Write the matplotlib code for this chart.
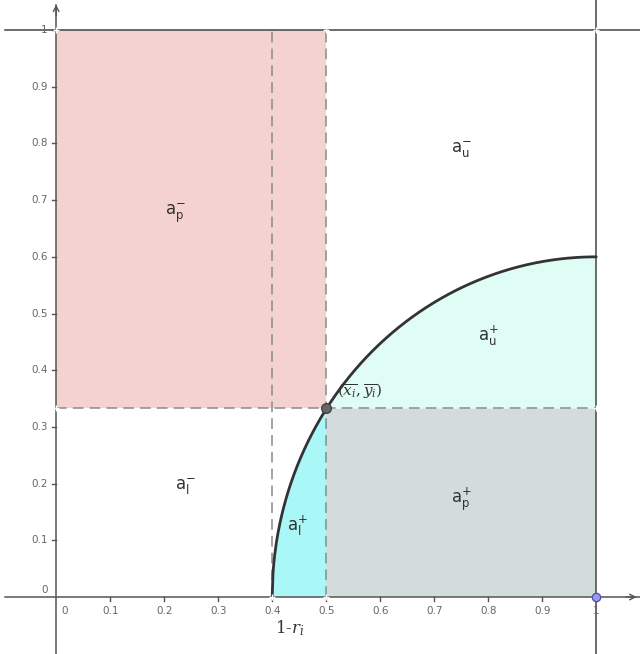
import numpy as np
import matplotlib.pyplot as plt

plt.rcParams['mathtext.fontset'] = 'dejavuserif'

# construction values
r_i = 0.6            # radius of the arc, centred at (1, 0)
x_bar = 0.5
y_bar = 0.333
x_ticks = [0.1, 0.2, 0.3, 0.4, 0.5, 0.6, 0.7, 0.8, 0.9, 1]
x_tick_labels = ['0.1', '0.2', '0.3', '0.4', '0.5', '0.6', '0.7', '0.8', '0.9', '1']
y_ticks = [0.1, 0.2, 0.3, 0.4, 0.5, 0.6, 0.7, 0.8, 0.9, 1]
y_tick_labels = ['0.1', '0.2', '0.3', '0.4', '0.5', '0.6', '0.7', '0.8', '0.9', '1']
region_names = ['a_p^-', 'a_u^-', 'a_u^+', 'a_l^-', 'a_l^+', 'a_p^+']
region_x = [0.22, 0.75, 0.80, 0.24, 0.446, 0.75]
region_y = [0.675, 0.79, 0.46, 0.195, 0.125, 0.172]

fig = plt.figure(figsize=(6.4, 6.54), dpi=100)
ax = fig.add_axes([0, 0, 1, 1])
ax.set_xlim(-0.104, 1.081)
ax.set_ylim(-0.1005, 1.053)
for s in ax.spines.values():
    s.set_visible(False)
ax.set_xticks([])
ax.set_yticks([])

xs = np.linspace(1 - r_i, 1, 400)
arc = np.sqrt(np.clip(r_i**2 - (xs - 1)**2, 0, None))

# filled regions
ax.fill_between([0, x_bar], y_bar, 1, color='#f5d2d2', lw=0, zorder=1)
ax.fill_between([x_bar, 1], 0, y_bar, color='#d3dcdc', lw=0, zorder=1)
m = xs >= x_bar
ax.fill_between(xs[m], y_bar, arc[m], color='#e0fdf5', lw=0, zorder=1)
m2 = xs <= x_bar + 1e-9
ax.fill_between(xs[m2], 0, arc[m2], color='#aaf7f8', lw=0, zorder=1)

# dashed construction lines
dash = dict(color='#8a8a8a', lw=1.1, ls=(0, (7, 4)), zorder=2)
ax.plot([1 - r_i, 1 - r_i], [0, 1], **dash)
ax.plot([x_bar, x_bar], [0, 1], **dash)
ax.plot([0, 1], [y_bar, y_bar], **dash)

# axes and boundary lines
ax.plot([-0.095, 1.081], [0, 0], color='#555555', lw=1.1, zorder=3)
ax.plot([0, 0], [-0.1005, 1.045], color='#555555', lw=1.1, zorder=3)
ax.plot([-0.095, 1.081], [1, 1], color='#444444', lw=1.1, zorder=3)
ax.plot([1, 1], [-0.1005, 1.053], color='#444444', lw=1.1, zorder=3)
ax.annotate('', xy=(0, 1.05), xytext=(0, 1.02),
            arrowprops=dict(arrowstyle='->', color='#555555', lw=1.0))
ax.annotate('', xy=(1.08, 0), xytext=(1.05, 0),
            arrowprops=dict(arrowstyle='->', color='#555555', lw=1.0))

# ticks
for t, lab in zip(x_ticks, x_tick_labels):
    ax.plot([t, t], [0, -0.007], color='#555555', lw=1, zorder=3)
    ax.text(t, -0.015, lab, ha='center', va='top', fontsize=7.5, color='#666666')
for t, lab in zip(y_ticks, y_tick_labels):
    ax.plot([0, -0.008], [t, t], color='#555555', lw=1, zorder=3)
    ax.text(-0.016, t, lab, ha='right', va='center', fontsize=7.5, color='#666666')
ax.text(0.016, -0.015, '0', ha='center', va='top', fontsize=7.5, color='#666666')
ax.text(-0.016, 0.012, '0', ha='right', va='center', fontsize=7.5, color='#666666')

# arc
ax.plot(xs, arc, color='#333333', lw=2, zorder=4, solid_capstyle='round')

# points
ax.plot(x_bar, y_bar, 'o', ms=7, mfc='#666666', mec='#444444', zorder=5)
ax.plot(1, 0, 'o', ms=6, mfc='#9a9aee', mec='#5555aa', zorder=5)
for px, py in [(1 - r_i, 0), (x_bar, 0), (0, 1), (1, 1), (1, y_bar), (0, y_bar), (x_bar, 1)]:
    ax.plot(px, py, '+', ms=4, color='white', mew=1, zorder=5)

# region labels
for name, rx, ry in zip(region_names, region_x, region_y):
    base, rest = name.split('_')
    sub, sup = rest.split('^')
    ax.text(rx, ry, r'$\mathsf{%s_{%s}^{%s}}$' % (base, sub, sup), fontsize=12,
            color='#333333', ha='center', va='center', zorder=6)

ax.text(1 - r_i + 0.005, -0.055, r'1-$r_i$', fontsize=12, family='serif',
        ha='left', va='center', color='#333333')
ax.text(x_bar + 0.02, y_bar + 0.03, r'$(\overline{x_i},\overline{y_i})$', fontsize=11,
        ha='left', va='center', color='#333333', zorder=6)

fig.savefig('out.png', dpi=100)
